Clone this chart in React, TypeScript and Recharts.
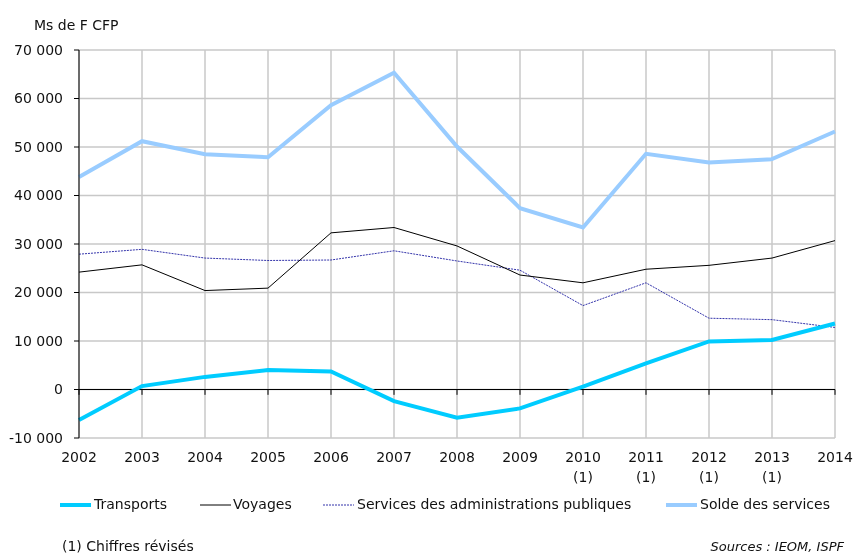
import React from 'react';
import { LineChart, Line, CartesianGrid, XAxis, YAxis, ReferenceLine } from 'recharts';

const years = ['2002', '2003', '2004', '2005', '2006', '2007', '2008', '2009', '2010', '2011', '2012', '2013', '2014'];
const revisedYears = ['2010', '2011', '2012', '2013'];

const transports = [-6300, 700, 2600, 4000, 3700, -2400, -5800, -3900, 600, 5400, 9900, 10200, 13600];
const voyages = [24200, 25700, 20400, 20900, 32300, 33400, 29600, 23600, 22000, 24800, 25600, 27100, 30700];
const adminServices = [27900, 28900, 27100, 26600, 26700, 28600, 26500, 24600, 17300, 22000, 14700, 14400, 12800];
const solde = [43800, 51200, 48500, 47900, 58600, 65300, 50100, 37400, 33400, 48600, 46800, 47500, 53200];

const yTicks = [-10000, 0, 10000, 20000, 30000, 40000, 50000, 60000, 70000];

const data = years.map((year, i) => ({
  year,
  transports: transports[i],
  voyages: voyages[i],
  admin: adminServices[i],
  solde: solde[i],
}));

const FONT = '"DejaVu Sans", Verdana, sans-serif';

const fmt = (v: number) => {
  const s = Math.abs(v).toString().replace(/\B(?=(\d{3})+(?!\d))/g, ' ');
  return v < 0 ? '-' + s : s;
};

const YearTick = (props: any) => {
  const { x, y, payload } = props;
  return (
    <g transform={`translate(${x},${y})`}>
      <text textAnchor="middle" dy={24} fontSize={14} fill="#111" fontFamily={FONT}>
        {payload.value}
      </text>
      {revisedYears.includes(payload.value) && (
        <text textAnchor="middle" dy={44} fontSize={14} fill="#111" fontFamily={FONT}>
          (1)
        </text>
      )}
    </g>
  );
};

const legendItems = [
  { name: 'Transports', color: '#00CCFF', width: 4, dash: undefined, lineX: 52, textX: 86 },
  { name: 'Voyages', color: '#000000', width: 1, dash: undefined, lineX: 192, textX: 225 },
  { name: 'Services des administrations publiques', color: '#3333AA', width: 1, dash: '2 1', lineX: 315, textX: 349 },
  { name: 'Solde des services', color: '#99CCFF', width: 4, dash: undefined, lineX: 658, textX: 692 },
];

export default function App() {
  return (
    <div style={{ position: 'fixed', left: 8, top: 8, width: 848, height: 547, fontFamily: FONT, color: '#111' }}>
      <div style={{ position: 'absolute', left: 26, top: 9, fontSize: 14 }}>Ms de F CFP</div>
      <LineChart
        width={848}
        height={485}
        data={data}
        margin={{ top: 42, right: 21, left: 0, bottom: 0 }}
      >
        <CartesianGrid stroke="#C8C8C8" strokeWidth={1.5} />
        <XAxis
          dataKey="year"
          axisLine={false}
          tickLine={false}
          tickSize={0}
          tickMargin={0}
          height={55}
          interval={0}
          tick={<YearTick />}
        />
        <YAxis
          domain={[-10000, 70000]}
          ticks={yTicks}
          width={71}
          tickSize={5}
          tickMargin={11}
          tickFormatter={fmt}
          axisLine={{ stroke: '#000' }}
          tickLine={{ stroke: '#000' }}
          tick={{ fontSize: 14, fill: '#111', fontFamily: FONT }}
          interval={0}
        />
        <ReferenceLine y={0} stroke="#000" strokeWidth={1} />
        {years.map((yr) => (
          <ReferenceLine key={yr} segment={[{ x: yr, y: 0 }, { x: yr, y: -1100 }]} stroke="#000" />
        ))}
        <Line dataKey="admin" stroke="#3333AA" strokeWidth={1} strokeDasharray="2 1" dot={false} isAnimationActive={false} type="linear" />
        <Line dataKey="voyages" stroke="#000" strokeWidth={1} dot={false} isAnimationActive={false} type="linear" />
        <Line dataKey="transports" stroke="#00CCFF" strokeWidth={4} dot={false} isAnimationActive={false} type="linear" />
        <Line dataKey="solde" stroke="#99CCFF" strokeWidth={4} dot={false} isAnimationActive={false} type="linear" />
      </LineChart>
      {legendItems.map((item) => (
        <React.Fragment key={item.name}>
          <svg style={{ position: 'absolute', left: item.lineX, top: 492 }} width={32} height={10}>
            <line x1={0} y1={5} x2={31} y2={5} stroke={item.color} strokeWidth={item.width} strokeDasharray={item.dash} />
          </svg>
          <div style={{ position: 'absolute', left: item.textX, top: 488, fontSize: 14, whiteSpace: 'nowrap' }}>{item.name}</div>
        </React.Fragment>
      ))}
      <div style={{ position: 'absolute', left: 54, top: 530, fontSize: 14 }}>(1) Chiffres révisés</div>
      <div style={{ position: 'absolute', right: 12, top: 531, fontSize: 13, fontStyle: 'italic' }}>Sources : IEOM, ISPF</div>
    </div>
  );
}
